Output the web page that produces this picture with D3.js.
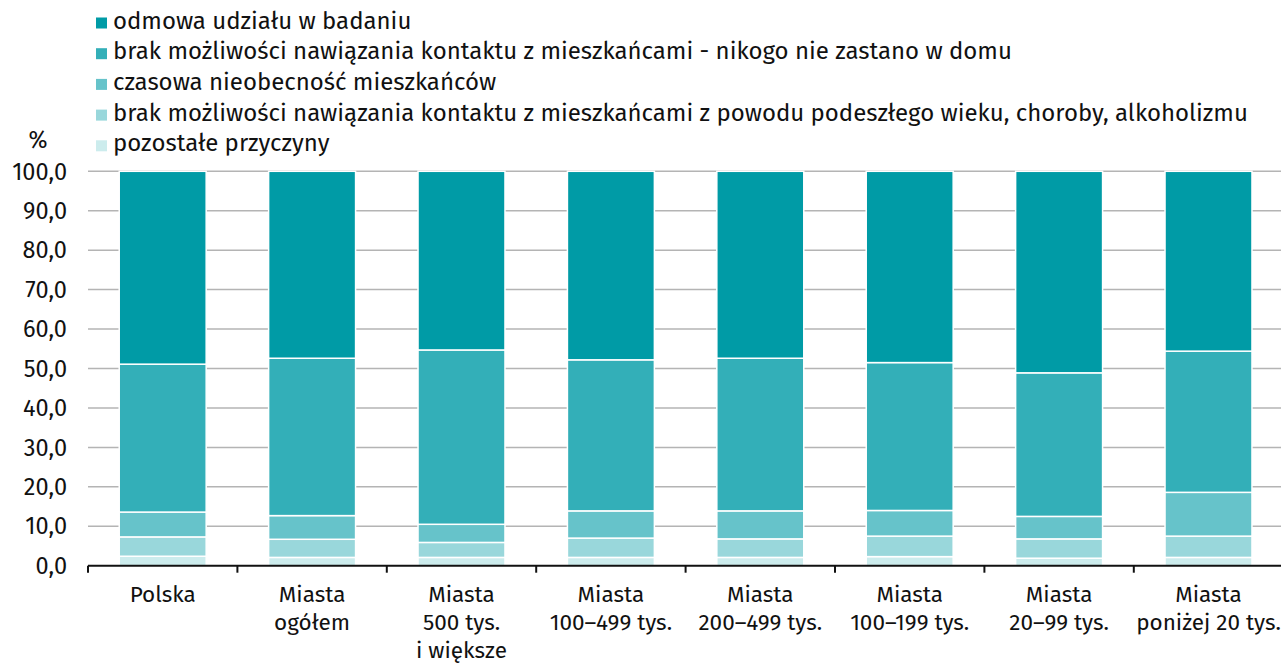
<!DOCTYPE html>
<html lang="pl">
<head>
<meta charset="utf-8">
<script src="https://cdn.jsdelivr.net/npm/d3@7"></script>
<style>
  html, body { margin: 0; padding: 0; background: #fff; }
  svg { display: block; font-family: "Fira Sans", "Open Sans", sans-serif; }
</style>
</head>
<body>
<svg id="chart" width="1281" height="663"></svg>
<script>
// Categories (multi-line labels split on "\n")
const categories = [
  "Polska",
  "Miasta\nogółem",
  "Miasta\n500 tys.\ni większe",
  "Miasta\n100–499 tys.",
  "Miasta\n200–499 tys.",
  "Miasta\n100–199 tys.",
  "Miasta\n20–99 tys.",
  "Miasta\nponiżej 20 tys."
];

// Series names, top of the stack first
const seriesNames = [
  "odmowa udziału w badaniu",
  "brak możliwości nawiązania kontaktu z mieszkańcami - nikogo nie zastano w domu",
  "czasowa nieobecność mieszkańców",
  "brak możliwości nawiązania kontaktu z mieszkańcami z powodu podeszłego wieku, choroby, alkoholizmu",
  "pozostałe przyczyny"
];

// Values (%) per series, one per category
const odmowa      = [48.9, 47.4, 45.3, 47.8, 47.4, 48.5, 51.1, 45.6];
const nikogo      = [37.5, 39.9, 44.2, 38.3, 38.7, 37.5, 36.4, 35.8];
const czasowa     = [ 6.3,  6.0,  4.6,  6.9,  7.1,  6.5,  5.7, 11.1];
const wiekChoroba = [ 4.9,  4.6,  3.8,  4.9,  4.7,  5.2,  4.9,  5.4];
const pozostale   = [ 2.4,  2.1,  2.1,  2.1,  2.1,  2.3,  1.9,  2.1];

const yTicks = [0, 10, 20, 30, 40, 50, 60, 70, 80, 90, 100];

const seriesValues = [odmowa, nikogo, czasowa, wiekChoroba, pozostale];
const colors = ["#009ba6", "#33afb8", "#66c3ca", "#99d7db", "#cceced"];

// Build rows for d3.stack
const keys = ["k0", "k1", "k2", "k3", "k4"];
const rows = categories.map((c, i) => {
  const r = { cat: c };
  keys.forEach((k, j) => r[k] = seriesValues[j][i]);
  return r;
});
// stack from the bottom: pozostałe first, odmowa last (top)
const stackOrder = keys.slice().reverse();
const stacked = d3.stack().keys(stackOrder)(rows);

const svg = d3.select("#chart");
const W = 1281;
const left = 88;

const x = d3.scaleBand()
  .domain(categories)
  .range([left, left + 8 * 149.4])
  .paddingInner(0.418)
  .paddingOuter(0.209);

const y = d3.scaleLinear()
  .domain([0, 100])
  .range([565.7, 171.3]);

const fmt = d3.formatLocale({ decimal: ",", thousands: " ", grouping: [3], currency: ["", " zł"] }).format(".1f");

// Gridlines
svg.append("g")
  .selectAll("line")
  .data(yTicks.filter(v => v > 0))
  .join("line")
  .attr("x1", left)
  .attr("x2", W)
  .attr("y1", d => y(d))
  .attr("y2", d => y(d))
  .attr("stroke", "#b4b4b4")
  .attr("stroke-width", 1.5);

// Y tick labels
svg.append("g")
  .selectAll("text")
  .data(yTicks)
  .join("text")
  .attr("x", 67)
  .attr("y", d => y(d))
  .attr("dy", "0.35em")
  .attr("text-anchor", "end")
  .attr("font-size", 23.5)
  .attr("fill", "#111")
  .text(d => fmt(d));

// Bars
svg.append("g")
  .selectAll("g")
  .data(stacked)
  .join("g")
  .attr("fill", d => colors[keys.indexOf(d.key)])
  .selectAll("rect")
  .data(d => d)
  .join("rect")
  .attr("x", d => x(d.data.cat))
  .attr("width", x.bandwidth())
  .attr("y", d => y(d[1]))
  .attr("height", d => y(d[0]) - y(d[1]))
  .attr("stroke", "#fff")
  .attr("stroke-width", 1.5);

// X axis line with ticks at category boundaries
const axisG = svg.append("g");
axisG.append("line")
  .attr("x1", left).attr("x2", W)
  .attr("y1", y(0)).attr("y2", y(0))
  .attr("stroke", "#111").attr("stroke-width", 2);
const step = x.step();
const boundaries = categories.map(c => x(c) + x.bandwidth() / 2 - step / 2)
  .concat([x(categories[categories.length - 1]) + x.bandwidth() / 2 + step / 2]);
axisG.selectAll("line.tick")
  .data(boundaries)
  .join("line")
  .attr("class", "tick")
  .attr("x1", d => d).attr("x2", d => d)
  .attr("y1", y(0)).attr("y2", y(0) + 7)
  .attr("stroke", "#111").attr("stroke-width", 2);

// Category labels
const labels = svg.append("g")
  .selectAll("text")
  .data(categories)
  .join("text")
  .attr("x", d => x(d) + x.bandwidth() / 2)
  .attr("y", 602)
  .attr("text-anchor", "middle")
  .attr("font-size", 22.5)
  .attr("fill", "#111");
labels.selectAll("tspan")
  .data(d => d.split("\n"))
  .join("tspan")
  .attr("x", function () { return d3.select(this.parentNode).attr("x"); })
  .attr("dy", (d, i) => i === 0 ? 0 : 28)
  .text(d => d);

// Legend
const legend = svg.append("g");
seriesNames.forEach((name, i) => {
  const base = 28.5 + i * 30.7;
  legend.append("rect")
    .attr("x", 96).attr("y", base - 11)
    .attr("width", 11).attr("height", 11)
    .attr("fill", colors[i]);
  legend.append("text")
    .attr("x", 113).attr("y", base)
    .attr("font-size", 24)
    .attr("fill", "#111")
    .text(name);
});

// Unit label
svg.append("text")
  .attr("x", 38).attr("y", 140)
  .attr("dy", "0.35em")
  .attr("text-anchor", "middle")
  .attr("font-size", 23)
  .attr("fill", "#111")
  .text("%");
</script>
</body>
</html>
